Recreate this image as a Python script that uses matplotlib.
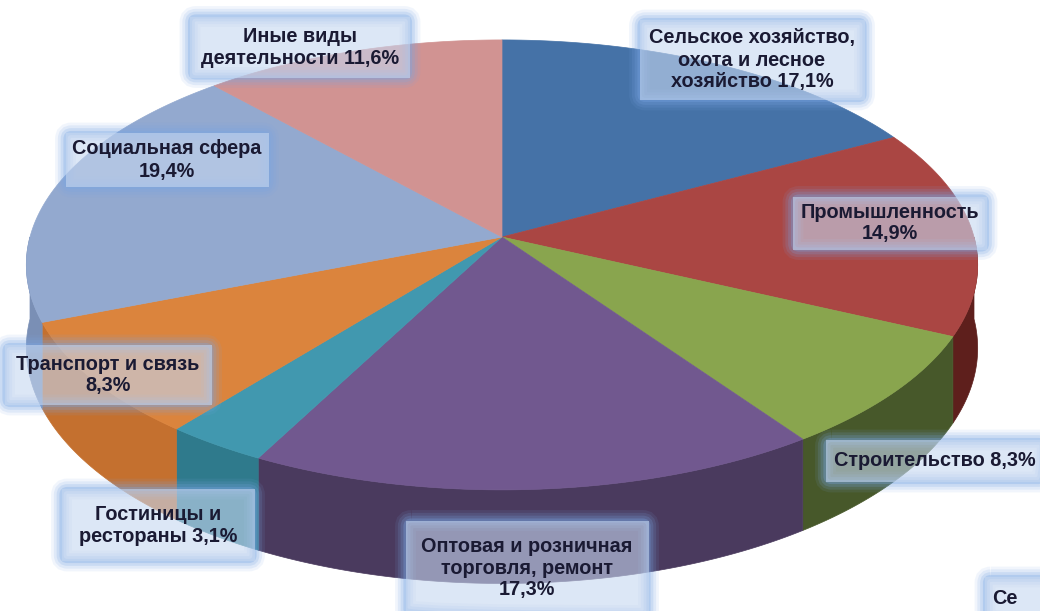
import numpy as np
import matplotlib
matplotlib.use('Agg')
import matplotlib.pyplot as plt
from matplotlib.patches import Polygon, FancyBboxPatch

# данные: структура по видам деятельности, %
sectors = ['Сельское хозяйство,\nохота и лесное\nхозяйство', 'Промышленность',
           'Строительство', 'Оптовая и розничная\nторговля, ремонт',
           'Гостиницы и\nрестораны', 'Транспорт и связь', 'Социальная сфера',
           'Иные виды\nдеятельности']
shares = [17.1, 14.9, 8.3, 17.3, 3.1, 8.3, 19.4, 11.6]
value_sep = [' ', '\n', ' ', '\n', ' ', '\n', '\n', ' ']

top_colors = ['#4572A7', '#AA4643', '#89A54E', '#71588F',
              '#4198AF', '#DB843D', '#93A9CF', '#D19392']
side_colors = ['#2f4f78', '#5e1f1c', '#47582a', '#4a3a5e',
               '#2f7a8c', '#c4702f', '#7a8fb5', '#a86f6e']

# подписи: центр и размер рамки (пиксели)
label_boxes = [(752, 60, 225, 80), (890, 223, 194, 53), (935, 461, 219, 42),
               (527, 568, 243, 95), (158, 525, 193, 72), (108, 375, 207, 60),
               (167, 160, 203, 54), (300, 47, 220, 61)]

# геометрия "3D" круга
CX, CY = 502, 237
A, B, K = 472, 221.5, 0.124
H = 82


def project(theta, drop=0.0):
    X, Y = np.cos(theta), np.sin(theta)
    w = 1 + K * Y
    return CX + A * X / w, CY - B * Y / w + drop / w


fig = plt.figure(figsize=(10.4, 6.11), dpi=100)
ax = fig.add_axes([0, 0, 1, 1])
ax.set_xlim(0, 1040)
ax.set_ylim(611, 0)
ax.axis('off')

cum = np.concatenate([[0], np.cumsum(shares)])
starts = np.pi / 2 - 2 * np.pi * cum[:-1] / 100
ends = np.pi / 2 - 2 * np.pi * cum[1:] / 100

# боковые стенки (передняя половина)
for i in range(len(shares)):
    lo, hi = max(ends[i], -np.pi), min(starts[i], 0)
    if hi <= lo:
        continue
    ts = np.linspace(hi, lo, 80)
    tx, ty = project(ts)
    bx, by = project(ts[::-1], H)
    pts = np.column_stack([np.concatenate([tx, bx]), np.concatenate([ty, by])])
    ax.add_patch(Polygon(pts, closed=True, fc=side_colors[i], ec=side_colors[i], lw=0.5, zorder=2))

# верхняя грань
for i in range(len(shares)):
    ts = np.linspace(starts[i], ends[i], 120)
    x, y = project(ts)
    pts = np.column_stack([np.concatenate([[CX], x]), np.concatenate([[CY], y])])
    ax.add_patch(Polygon(pts, closed=True, fc=top_colors[i], ec=top_colors[i], lw=0.5, zorder=3))


def glow_box(cx, cy, w, h):
    x0, y0 = cx - w / 2, cy - h / 2
    for lw, al in [(15, 0.10), (11, 0.15), (7, 0.2), (3, 0.3)]:
        ax.add_patch(FancyBboxPatch((x0, y0), w, h, boxstyle='round,pad=0,rounding_size=6',
                                    fc='none', ec='#7aa6e3', lw=lw, alpha=al, zorder=5))
    ax.add_patch(FancyBboxPatch((x0, y0), w, h, boxstyle='square,pad=0',
                                fc='#c6d7f0', ec='none', alpha=0.6, zorder=6))


for name, v, sep, (bx, by, bw, bh) in zip(sectors, shares, value_sep, label_boxes):
    glow_box(bx, by, bw, bh)
    txt = name + sep + f'{v:.1f}'.replace('.', ',') + '%'
    ax.text(bx, by, txt, ha='center', va='center', multialignment='center',
            fontsize=14.3, fontweight='bold', family='Liberation Sans',
            color='#1a1a33', linespacing=1.2, zorder=7)

# обрезанная подпись соседнего объекта слайда
glow_box(1020, 600, 70, 46)
ax.text(992, 598, 'Се', ha='left', va='center', fontsize=14.3, fontweight='bold',
        family='Liberation Sans', color='#1a1a33', zorder=7)

fig.savefig('out.png', dpi=100)
